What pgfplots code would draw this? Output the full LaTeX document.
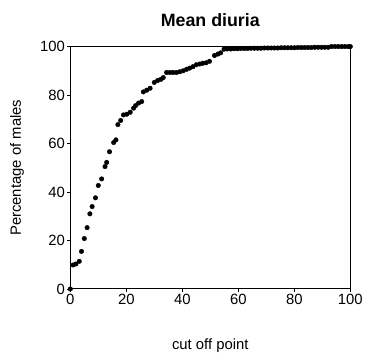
\documentclass[border=0pt]{standalone}
\usepackage{pgfplots}
\pgfplotsset{compat=1.18}
\usepackage{fontspec}
\setmainfont{Liberation Sans}
\begin{document}
\begin{tikzpicture}
\begin{axis}[
  scale only axis,
  width=283pt, height=245pt,
  xmin=0, xmax=100, ymin=0, ymax=100,
  xtick={0,20,40,60,80,100},
  ytick={0,20,40,60,80,100},
  tick align=outside,
  major tick length=3pt,
  xtick pos=bottom, ytick pos=left,
  axis line style={line width=1pt},
  every tick/.style={black, line width=0.8pt},
  /pgf/number format/assume math mode=true,
  tick label style={font=\fontsize{15}{18}\selectfont},
  yticklabel style={xshift=1pt},
  xticklabel style={yshift=1pt},
  title={Mean diuria},
  title style={font=\bfseries\fontsize{18}{21}\selectfont, at={(axis description cs:0.5,1.085)}, anchor=center},
  xlabel={cut off point},
  xlabel style={font=\fontsize{15}{18}\selectfont, at={(axis description cs:0.5,-0.232)}, anchor=center},
  ylabel={Percentage of males},
  ylabel style={font=\fontsize{15}{18}\selectfont, at={(axis description cs:-0.19,0.5)}, anchor=center},
  clip=false,
]
\path (axis description cs:-0.251,-0.290) rectangle (axis description cs:1.042,1.192);
\addplot[only marks, mark=*, mark size=2.3pt, black] coordinates {
(0,0)
(1,9.9)(2,10.3)(3.2,11.4)
(4,15.5)(5,20.8)(6,25.3)(7,31)(7.8,34)(9,37.6)(10,42.7)(11.2,45.4)
(12.4,50.5)(13,52.2)(14,56.6)(15.5,60.4)(16.3,61.5)(17,67.8)(18,69.5)(19,71.8)(20.2,72.1)(21.4,72.9)(22.6,74.6)(23.3,75.6)(24.4,76.7)(25.5,77.3)(26.1,81.3)(27.3,82)(28.5,82.8)(30,85.2)(31.2,86)(32.4,86.5)(33.2,87.2)(34.4,89.3)(35.6,89.3)(36.7,89.3)(37.9,89.3)(39.1,89.6)(40.3,90)(41.5,90.6)(42.6,91.1)(43.8,91.7)(45,92.5)(46.2,92.8)(47.3,93.1)(48.5,93.3)(49.7,93.9)(51.5,96.3)(52.7,96.9)(53.7,97.4)
(54.9,98.9)(56.1,99)(57.3,99)(58.5,99.1)(59.7,99.1)(60.9,99.2)(62.1,99.2)(63.3,99.2)(64.5,99.3)(65.7,99.3)(66.9,99.3)(68.1,99.3)(69.3,99.4)(70.5,99.4)(71.7,99.4)(72.9,99.4)(74.1,99.4)(75.3,99.5)(76.5,99.5)(77.7,99.5)(78.9,99.5)(80.1,99.5)(81.3,99.6)(82.5,99.6)(83.7,99.6)(84.9,99.6)(86.1,99.6)(87.3,99.7)(88.5,99.7)(89.7,99.7)(90.9,99.7)(92.1,99.7)
(93.3,100)(94.5,100)(95.7,100)(96.9,100)(98.1,100)(99.3,100)(100,100)
};
\end{axis}
\end{tikzpicture}
\end{document}
